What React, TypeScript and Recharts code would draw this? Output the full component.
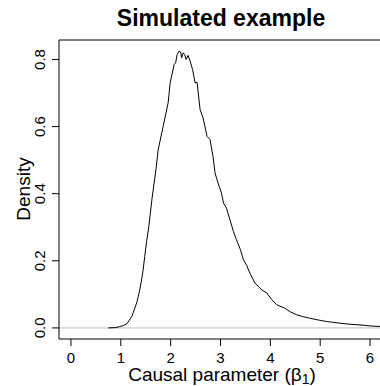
import React from "react";
import {
  LineChart,
  Line,
  XAxis,
  YAxis,
  ReferenceLine,
} from "recharts";

// density estimate
const betaValues = [
  0.75, 0.9, 0.98, 1.05, 1.12, 1.22, 1.32, 1.38, 1.44, 1.48, 1.52, 1.56, 1.63,
  1.705, 1.75, 1.85, 1.95, 1.99, 2.07, 2.1, 2.13, 2.17, 2.2, 2.22, 2.25, 2.28,
  2.31, 2.35, 2.39, 2.44, 2.49, 2.53, 2.59, 2.65, 2.73, 2.79, 2.85, 2.89, 2.95,
  3.02, 3.06, 3.12, 3.19, 3.26, 3.32, 3.4, 3.46, 3.52, 3.59, 3.69, 3.83, 3.93,
  4.03, 4.13, 4.29, 4.4, 4.53, 4.65, 4.79, 4.95, 5.13, 5.25, 5.4, 5.6, 5.8, 6.0,
  6.24,
];
const densityValues = [
  0, 0.001, 0.004, 0.007, 0.012, 0.034, 0.075, 0.113, 0.164, 0.213, 0.26, 0.3,
  0.39, 0.472, 0.531, 0.601, 0.671, 0.73, 0.785, 0.79, 0.815, 0.825, 0.822,
  0.805, 0.82, 0.815, 0.8, 0.812, 0.795, 0.77, 0.73, 0.732, 0.651, 0.626, 0.571,
  0.561, 0.511, 0.462, 0.432, 0.402, 0.372, 0.357, 0.322, 0.287, 0.263, 0.233,
  0.203, 0.188, 0.163, 0.134, 0.113, 0.104, 0.084, 0.069, 0.059, 0.048, 0.039,
  0.034, 0.029, 0.024, 0.019, 0.017, 0.014, 0.011, 0.009, 0.006, 0.004,
];
const xTicks = [0, 1, 2, 3, 4, 5, 6];
const yTicks = [0, 0.2, 0.4, 0.6, 0.8];

const data = betaValues.map((x, i) => ({ x, density: densityValues[i] }));

const font = "Liberation Sans, Arial, Helvetica, sans-serif";
const xDomain = [-0.24, 6.24];
const yDomain = [-0.033, 0.858];

const YTick = (props: any) => {
  const { y, payload } = props;
  return (
    <text
      x={45}
      y={y}
      transform={`rotate(-90 45 ${y})`}
      textAnchor="middle"
      fontSize={15}
      fontFamily={font}
      fill="#000"
    >
      {Number(payload.value).toFixed(1)}
    </text>
  );
};

export default function App() {
  return (
    <div
      style={{
        position: "fixed",
        left: 0,
        top: 0,
        width: 380,
        height: 386,
        overflow: "hidden",
        background: "#fff",
      }}
    >
      <LineChart
        width={390}
        height={386}
        data={data}
        margin={{ top: 40, right: 8, bottom: 0, left: 0 }}
      >
        <XAxis
          dataKey="x"
          type="number"
          domain={xDomain}
          ticks={xTicks}
          allowDataOverflow
          height={47}
          tickSize={7}
          tickMargin={6}
          axisLine={{ stroke: "#000" }}
          tickLine={{ stroke: "#000" }}
          tick={{ fill: "#000", fontSize: 15, fontFamily: font }}
          label={{
            content: () => (
              <text
                x={222}
                y={381}
                textAnchor="middle"
                fontSize={19}
                fontFamily={font}
                fill="#000"
              >
                Causal parameter (β
                <tspan fontSize={14} dy={3}>
                  1
                </tspan>
                <tspan dy={-3}>)</tspan>
              </text>
            ),
          }}
        />
        <YAxis
          type="number"
          domain={yDomain}
          ticks={yTicks}
          allowDataOverflow
          width={59}
          tickSize={7}
          axisLine={{ stroke: "#000" }}
          tickLine={{ stroke: "#000" }}
          tick={<YTick />}
          label={{
            content: () => (
              <g>
                <text
                  x={221}
                  y={26}
                  textAnchor="middle"
                  fontSize={23}
                  fontWeight="bold"
                  fontFamily={font}
                  fill="#000"
                >
                  Simulated example
                </text>
                <text
                  x={30}
                  y={189}
                  transform="rotate(-90 30 189)"
                  textAnchor="middle"
                  fontSize={19}
                  fontFamily={font}
                  fill="#000"
                >
                  Density
                </text>
              </g>
            ),
          }}
        />
        <ReferenceLine y={0.858} stroke="#000" strokeWidth={1} />
        <ReferenceLine x={6.24} stroke="#000" strokeWidth={1} />
        <ReferenceLine y={0} stroke="#bebebe" strokeWidth={1} />
        <Line
          type="linear"
          dataKey="density"
          stroke="#000"
          strokeWidth={1}
          dot={false}
          isAnimationActive={false}
        />
      </LineChart>
    </div>
  );
}
